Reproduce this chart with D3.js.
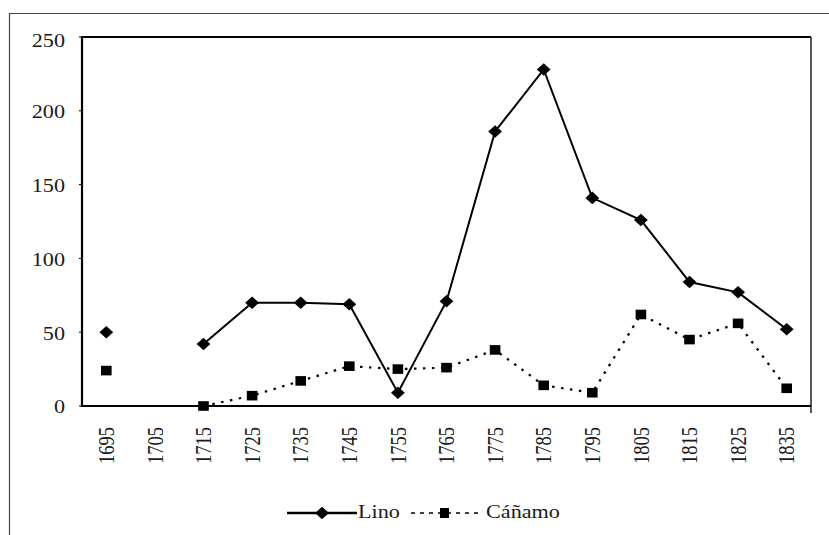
<!DOCTYPE html>
<html>
<head>
<meta charset="utf-8">
<script src="https://cdn.jsdelivr.net/npm/d3@7"></script>
<style>
  body { margin: 0; background: #fff; }
  text { font-family: "Liberation Serif", "Times New Roman", serif; fill: #1a1a1a; }
</style>
</head>
<body>
<script>
// data
var years = ['1695', '1705', '1715', '1725', '1735', '1745', '1755', '1765', '1775', '1785', '1795', '1805', '1815', '1825', '1835'];
var lino = [50, null, 42, 70, 70, 69, 9, 71, 186, 228, 141, 126, 84, 77, 52];
var canamo = [24, null, 0, 7, 17, 27, 25, 26, 38, 14, 9, 62, 45, 56, 12];
var yTicks = [0, 50, 100, 150, 200, 250];

var width = 829, height = 535;
var plotLeft = 82, plotRight = 811, plotTop = 37, plotBottom = 406;
var fontSize = 18.5, stretch = 1.2; // text in the picture is a bit wide

var svg = d3.select('body').append('svg').attr('width', width).attr('height', height);

// outer frame (left + top only, rest is off the picture)
svg.append('path').attr('d', 'M9.5,' + height + ' V13.5 H' + width)
    .attr('fill', 'none').attr('stroke', '#444').attr('stroke-width', 1.2);

var x = d3.scaleBand().domain(years).range([plotLeft, plotRight]);
var y = d3.scaleLinear().domain([0, 250]).range([plotBottom, plotTop]);
var cx = d => x(d) + x.bandwidth() / 2;

// plot area border
svg.append('line').attr('x1', plotLeft).attr('x2', plotRight).attr('y1', plotTop).attr('y2', plotTop)
    .attr('stroke', '#000').attr('stroke-width', 2.2);
svg.append('line').attr('x1', plotRight).attr('x2', plotRight).attr('y1', plotTop).attr('y2', plotBottom + 7)
    .attr('stroke', '#222').attr('stroke-width', 1.5);

// y axis
var gy = svg.append('g');
gy.append('line').attr('x1', plotLeft).attr('x2', plotLeft).attr('y1', plotTop - 1).attr('y2', plotBottom + 1)
    .attr('stroke', '#000').attr('stroke-width', 2.2);
gy.selectAll('.tick').data(yTicks).enter().append('line')
    .attr('x1', plotLeft - 3).attr('x2', plotLeft).attr('y1', d => y(d)).attr('y2', d => y(d))
    .attr('stroke', '#000').attr('stroke-width', 1);
gy.selectAll('.lbl').data(yTicks).enter().append('text')
    .attr('transform', d => 'translate(65,' + (y(d) + (d == 250 ? 4 : 1)) + ') scale(' + stretch + ',1)')
    .attr('text-anchor', 'end').attr('dy', '0.35em')
    .style('font-size', fontSize + 'px')
    .text(d => d);

// x axis
svg.append('line').attr('x1', plotLeft - 1).attr('x2', plotRight).attr('y1', plotBottom).attr('y2', plotBottom)
    .attr('stroke', '#000').attr('stroke-width', 2.2);
svg.selectAll('.xl').data(years).enter().append('text')
    .attr('transform', d => 'translate(' + cx(d) + ',427) scale(' + stretch + ',1) rotate(-90)')
    .attr('text-anchor', 'end').attr('dy', '0.35em')
    .style('font-size', fontSize + 'px')
    .text(d => d);

// series
var linoPts = years.map((d, i) => ({ year: d, v: lino[i] }));
var canamoPts = years.map((d, i) => ({ year: d, v: canamo[i] }));

var line = d3.line().defined(d => d.v != null).x(d => cx(d.year)).y(d => y(d.v));

svg.append('path').datum(linoPts).attr('d', line)
    .attr('fill', 'none').attr('stroke', '#000').attr('stroke-width', 2);
svg.append('path').datum(canamoPts).attr('d', line)
    .attr('fill', 'none').attr('stroke', '#000').attr('stroke-width', 2.2)
    .attr('stroke-dasharray', '2.5,6.5');

var diamond = d3.symbol().type(d3.symbolDiamond2).size(100);

svg.selectAll('.dm').data(linoPts.filter(d => d.v != null)).enter().append('path')
    .attr('d', diamond)
    .attr('transform', d => 'translate(' + cx(d.year) + ',' + y(d.v) + ') scale(1.1,1)')
    .attr('fill', '#000');
svg.selectAll('.sq').data(canamoPts.filter(d => d.v != null)).enter().append('rect')
    .attr('x', d => cx(d.year) - 5.3).attr('y', d => y(d.v) - 4.8)
    .attr('width', 10.6).attr('height', 9.6)
    .attr('fill', '#000');

// legend
var ly = 513;
var lg = svg.append('g');
lg.append('line').attr('x1', 287).attr('x2', 357).attr('y1', ly).attr('y2', ly)
    .attr('stroke', '#000').attr('stroke-width', 2.4);
lg.append('path').attr('d', diamond).attr('transform', 'translate(322,' + ly + ') scale(1.1,1)').attr('fill', '#000');
lg.append('text').attr('transform', 'translate(358,' + (ly + 4.5) + ') scale(' + stretch + ',1)')
    .style('font-size', fontSize + 'px').text('Lino');
lg.append('line').attr('x1', 411).attr('x2', 481).attr('y1', ly).attr('y2', ly)
    .attr('stroke', '#000').attr('stroke-width', 1.6).attr('stroke-dasharray', '4,5');
lg.append('rect').attr('x', 440).attr('y', ly - 5).attr('width', 9).attr('height', 10).attr('fill', '#000');
lg.append('text').attr('transform', 'translate(486,' + (ly + 4.5) + ') scale(' + stretch + ',1)')
    .style('font-size', fontSize + 'px').text('Cáñamo');
</script>
</body>
</html>
